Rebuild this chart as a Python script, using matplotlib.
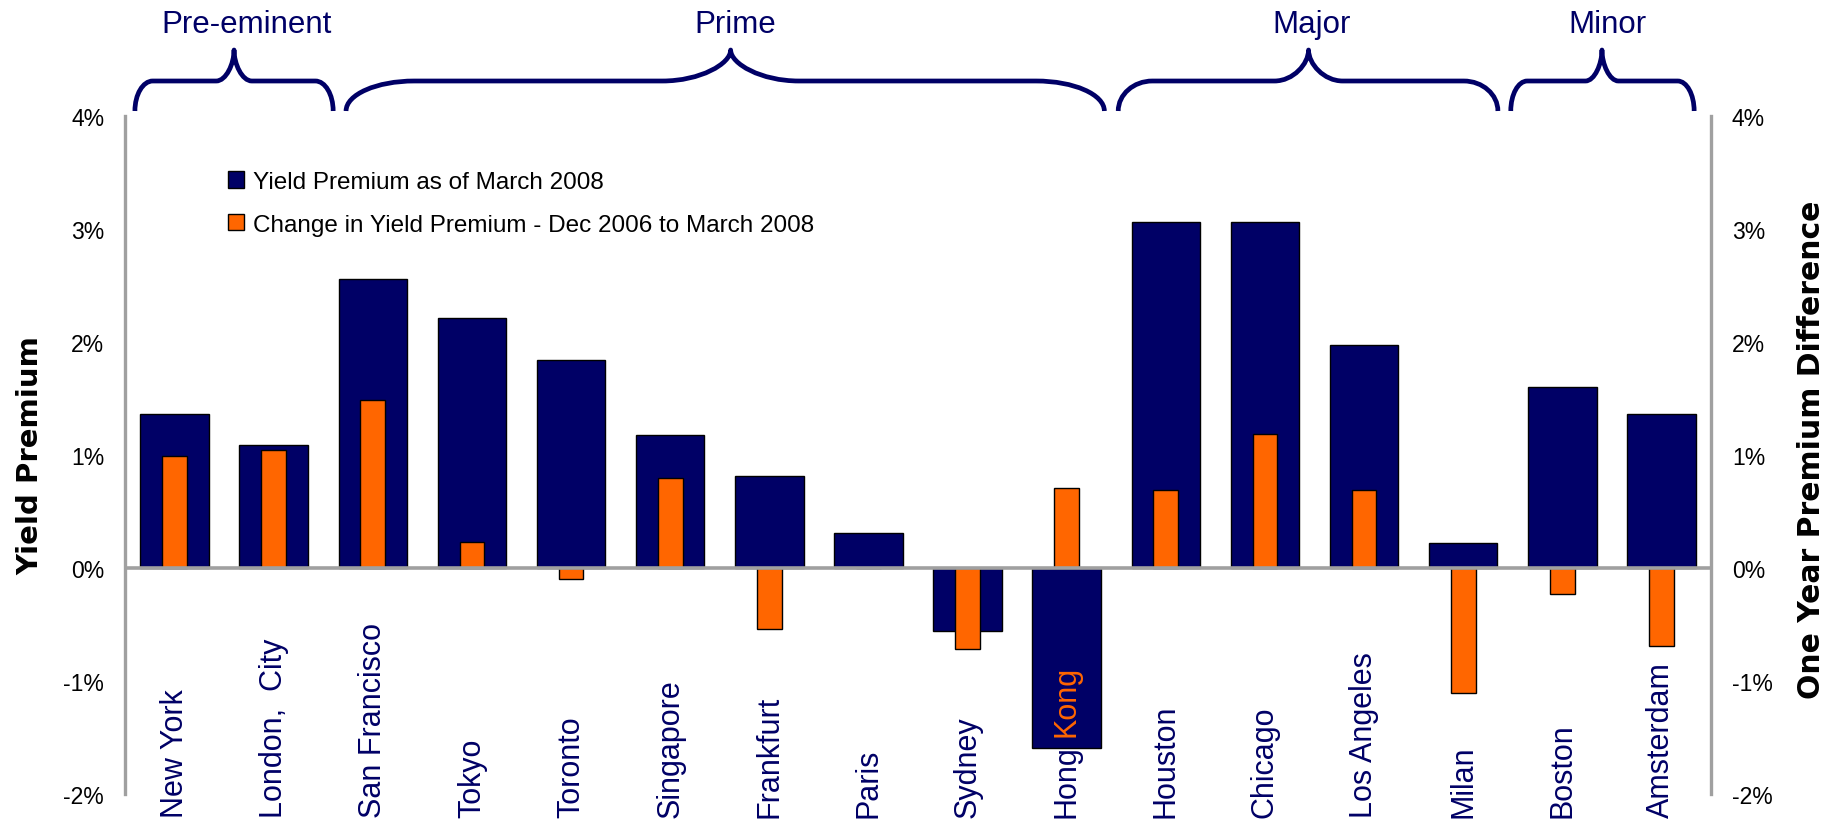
"""Yield premium by city: March 2008 level vs change since Dec 2006."""
import matplotlib
matplotlib.use("Agg")
import matplotlib.pyplot as plt
from matplotlib.path import Path
from matplotlib.patches import PathPatch
import matplotlib.transforms as mtransforms
import numpy as np

plt.rcParams["font.family"] = ["Liberation Sans", "DejaVu Sans"]

NAVY = "#000066"
ORANGE = "#FF6600"
GREY = "#A0A0A0"

CITIES = ["New York", "London,  City", "San Francisco", "Tokyo", "Toronto",
          "Singapore", "Frankfurt", "Paris", "Sydney", "Hong Kong",
          "Houston", "Chicago", "Los Angeles", "Milan", "Boston", "Amsterdam"]
# yield premium as of March 2008 (%)
PREMIUM_2008 = [1.36, 1.09, 2.56, 2.21, 1.84, 1.18, 0.81, 0.31, -0.56, -1.59,
                3.06, 3.06, 1.97, 0.22, 1.60, 1.36]
# change in yield premium Dec 2006 -> March 2008 (%)
PREMIUM_CHANGE = [0.99, 1.04, 1.49, 0.23, -0.10, 0.80, -0.54, 0.0, -0.72, 0.71,
                  0.69, 1.19, 0.69, -1.11, -0.23, -0.69]
GROUPS = ["Pre-eminent", "Prime", "Major", "Minor"]
SERIES = ["Yield Premium as of March 2008",
          "Change in Yield Premium - Dec 2006 to March 2008"]
Y_TICKS = [-2, -1, 0, 1, 2, 3, 4]

# brace layout in category units: (left, right, tip, label x)
BRACE_LAYOUT = [(-0.40, 1.60, 0.60, 0.73), (1.73, 9.38, 5.61, 5.66),
                (9.52, 13.35, 11.44, 11.47), (13.48, 15.33, 14.40, 14.46)]

W, H = 1833, 820
fig = plt.figure(figsize=(W / 100, H / 100), dpi=100)
ax = fig.add_axes([125 / W, 1 - 795 / H, (1711 - 125) / W, (795 - 117) / H])

x = np.arange(len(CITIES))
blue = ax.bar(x, PREMIUM_2008, width=0.69, color=NAVY, edgecolor="black",
              linewidth=1.0, zorder=2, label=SERIES[0])
orange = ax.bar(x, PREMIUM_CHANGE, width=0.25, color=ORANGE, edgecolor="black",
                linewidth=1.0, zorder=2.5, label=SERIES[1])
ax.axhline(0, color=GREY, lw=2.6, zorder=4)

ax.set_xlim(-0.5, len(CITIES) - 0.5)
ax.set_ylim(Y_TICKS[0], Y_TICKS[-1])
ax.set_xticks([])
ax.set_yticks(Y_TICKS)
ax.set_yticklabels([f"{t}%" for t in Y_TICKS], fontsize=16.5)
ax.tick_params(axis="y", length=0, pad=15)
for side in ("top", "bottom"):
    ax.spines[side].set_visible(False)
for side in ("left", "right"):
    ax.spines[side].set_color(GREY)
    ax.spines[side].set_linewidth(2.4)

ax2 = ax.twinx()
ax2.set_ylim(Y_TICKS[0], Y_TICKS[-1])
ax2.set_yticks(Y_TICKS)
ax2.set_yticklabels([f"{t}%" for t in Y_TICKS], fontsize=16.5)
ax2.tick_params(axis="y", length=0, pad=15)
for side in ("top", "bottom", "left", "right"):
    ax2.spines[side].set_visible(False)

# category labels, rotated, anchored at the bottom of the figure
# (drawn behind the bars, as in the original)
trans = mtransforms.blended_transform_factory(ax.transData, fig.transFigure)
label_kw = dict(rotation=90, ha="center", va="bottom", fontsize=22,
                transform=trans, clip_on=False)
hk = CITIES.index("Hong Kong")
for i, name in enumerate(CITIES):
    if i != hk:
        ax.text(i, 2 / H, name, color=NAVY, zorder=1, **label_kw)

# Hong Kong: "Hong" in navy below the bar, "Kong" in orange over it
head, tail_word = CITIES[hk].split(" ", 1)
renderer = fig.canvas.get_renderer()
full = ax.text(hk, 2 / H, CITIES[hk], alpha=0, **label_kw)
tail = ax.text(hk, 2 / H, tail_word, alpha=0, **label_kw)
offset = (full.get_window_extent(renderer).height
          - tail.get_window_extent(renderer).height)
full.remove()
tail.remove()
ax.text(hk, 2 / H, head, color=NAVY, zorder=1, **label_kw)
ax.text(hk, (2 + offset) / H, tail_word, color=ORANGE, zorder=3, **label_kw)

fig.text(30 / W, 1 - 456 / H, "Yield Premium", rotation=90, ha="center",
         va="center", fontsize=21, fontweight="bold", family="DejaVu Sans")
fig.text(1812 / W, 1 - 450 / H, "One Year Premium Difference", rotation=90,
         ha="center", va="center", fontsize=21.5, fontweight="bold",
         family="DejaVu Sans")

ax.legend(handles=[blue, orange], loc="upper left", frameon=False,
          bbox_to_anchor=(228 / W, 1 - 172 / H), bbox_transform=fig.transFigure,
          borderpad=0, borderaxespad=0, fontsize=17.5, handlelength=0.66,
          handleheight=0.66, handletextpad=0.35, labelspacing=0.85)

# group braces drawn in figure pixels
ov = fig.add_axes([0, 0, 1, 1], facecolor="none")
ov.set_xlim(0, W)
ov.set_ylim(H, 0)
ov.axis("off")


def to_px(xv):
    return ax.transData.transform((xv, 0))[0]


def brace(xl, xr, xt, y_end=112, y_bar=82, y_tip=51):
    k = 0.5523
    r = 0.09 * (xr - xl)
    h1 = y_end - y_bar
    h2 = y_bar - y_tip
    verts = [(xl, y_end), (xl, y_end - k * h1), (xl + r * (1 - k), y_bar), (xl + r, y_bar),
             (xt - r, y_bar),
             (xt - r * (1 - k), y_bar), (xt, y_bar - k * h2), (xt, y_tip),
             (xt, y_bar - k * h2), (xt + r * (1 - k), y_bar), (xt + r, y_bar),
             (xr - r, y_bar),
             (xr - r * (1 - k), y_bar), (xr, y_end - k * h1), (xr, y_end)]
    codes = [Path.MOVETO, Path.CURVE4, Path.CURVE4, Path.CURVE4, Path.LINETO,
             Path.CURVE4, Path.CURVE4, Path.CURVE4,
             Path.CURVE4, Path.CURVE4, Path.CURVE4, Path.LINETO,
             Path.CURVE4, Path.CURVE4, Path.CURVE4]
    ov.add_patch(PathPatch(Path(verts, codes), fill=False, edgecolor=NAVY,
                           lw=3.4, capstyle="butt", joinstyle="round"))


for name, (l, r, tip, lx) in zip(GROUPS, BRACE_LAYOUT):
    brace(to_px(l), to_px(r), to_px(tip))
    ov.text(to_px(lx), 33, name, ha="center", va="baseline", fontsize=22.5,
            color=NAVY)

fig.savefig("out.png", dpi=100)
